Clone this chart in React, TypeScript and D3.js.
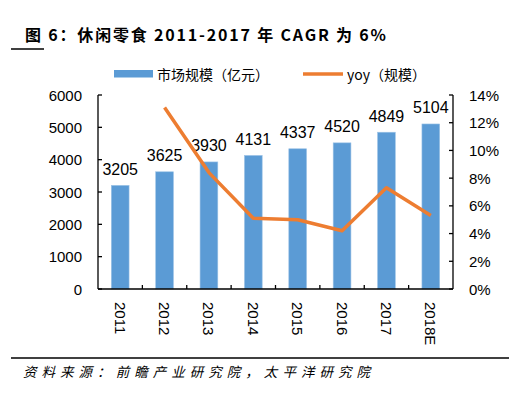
import React from 'react';
import * as d3 from 'd3';

const categories = ['2011', '2012', '2013', '2014', '2015', '2016', '2017', '2018E'];
const marketSize = [3205, 3625, 3930, 4131, 4337, 4520, 4849, 5104];
const yoyValues: (number | null)[] = [null, 13.1, 8.4, 5.1, 5.0, 4.2, 7.3, 5.3];
const leftTicks = [0, 1000, 2000, 3000, 4000, 5000, 6000];
const rightTicks = [0, 2, 4, 6, 8, 10, 12, 14];
const titleText = '图 6：休闲零食 2011-2017 年 CAGR 为 6%';
const sourceText = '资料来源：前瞻产业研究院，太平洋研究院';
const legendBar = '市场规模（亿元）';
const legendLine = 'yoy（规模）';

const NUM_FONT = '"Liberation Sans", Arial, sans-serif';
const CJK_FONT = '"Noto Sans CJK SC", "Liberation Sans", sans-serif';

export default function App() {
  const left = 98, right = 453, top = 95, bottom = 289;
  const x = d3.scaleBand<string>().domain(categories).range([left, right]).padding(0);
  const yL = d3.scaleLinear().domain([0, 6000]).range([bottom, top]);
  const yR = d3.scaleLinear().domain([0, 14]).range([bottom, top]);
  const bw = x.bandwidth() * 0.4;
  const cx = (c: string) => (x(c) as number) + x.bandwidth() / 2;

  const line = d3
    .line<number | null>()
    .defined((d) => d !== null)
    .x((_, i) => cx(categories[i]))
    .y((d) => yR(d as number));

  return (
    <svg width={511} height={398} style={{ position: 'absolute', left: 0, top: 0, background: '#fff' }}>
      {/* title */}
      <text
        x={25}
        y={41}
        fontFamily={CJK_FONT}
        fontWeight="bold"
        fontSize={16}
        textLength={361}
        lengthAdjust="spacing"
        fill="#000"
      >
        {titleText}
      </text>
      <line x1={11} x2={44} y1={49} y2={49} stroke="#000" strokeWidth={1.5} />

      {/* legend */}
      <rect x={114} y={70} width={39} height={7.5} fill="#5B9BD5" />
      <text x={157} y={74} dominantBaseline="central" fontFamily={CJK_FONT} fontSize={14} fill="#000">
        {legendBar}
      </text>
      <line x1={303} x2={343} y1={74} y2={74} stroke="#ED7D31" strokeWidth={3.5} />
      <text x={347} y={74} dominantBaseline="central" fontFamily={CJK_FONT} fontSize={14} fill="#000">
        {legendLine}
      </text>

      {/* bars */}
      {categories.map((c, i) => (
        <rect
          key={c}
          x={cx(c) - bw / 2}
          y={yL(marketSize[i])}
          width={bw}
          height={bottom - yL(marketSize[i])}
          fill="#5B9BD5"
          stroke="#9DC3E6"
          strokeWidth={0.6}
        />
      ))}
      {categories.map((c, i) => (
        <text
          key={'l' + c}
          x={cx(c)}
          y={yL(marketSize[i]) - 16}
          textAnchor="middle"
          dominantBaseline="central"
          fontFamily={NUM_FONT}
          fontSize={16}
          fill="#000"
        >
          {marketSize[i]}
        </text>
      ))}

      {/* yoy line */}
      <path d={line(yoyValues) || ''} fill="none" stroke="#ED7D31" strokeWidth={3.5} strokeLinejoin="round" />

      {/* axes */}
      <line x1={left} x2={left} y1={top} y2={bottom} stroke="#000" strokeWidth={1.3} />
      <line x1={right} x2={right} y1={top} y2={bottom} stroke="#000" strokeWidth={1.3} />
      <line x1={left} x2={right} y1={bottom} y2={bottom} stroke="#000" strokeWidth={1.3} />
      {leftTicks.map((t) => (
        <g key={'lt' + t}>
          <line x1={left} x2={left + 4} y1={yL(t)} y2={yL(t)} stroke="#000" strokeWidth={1.3} />
          <text x={82} y={yL(t)} textAnchor="end" dominantBaseline="central" fontFamily={NUM_FONT} fontSize={15} fill="#000">
            {t}
          </text>
        </g>
      ))}
      {rightTicks.map((t) => (
        <g key={'rt' + t}>
          <line x1={right - 4} x2={right} y1={yR(t)} y2={yR(t)} stroke="#000" strokeWidth={1.3} />
          <text x={469} y={yR(t)} textAnchor="start" dominantBaseline="central" fontFamily={NUM_FONT} fontSize={15} fill="#000">
            {t + '%'}
          </text>
        </g>
      ))}
      {categories.map((c, i) => (
        <g key={'xt' + c}>
          {i > 0 && (
            <line x1={x(c) as number} x2={x(c) as number} y1={bottom} y2={bottom - 4} stroke="#000" strokeWidth={1.3} />
          )}
          <text
            transform={`translate(${cx(c)},302) rotate(90)`}
            textAnchor="start"
            dominantBaseline="central"
            fontFamily={NUM_FONT}
            fontSize={15}
            fill="#000"
          >
            {c}
          </text>
        </g>
      ))}

      {/* footer */}
      <line x1={11} x2={509} y1={358} y2={358} stroke="#000" strokeWidth={1.5} />
      <text
        x={23}
        y={377}
        fontFamily={CJK_FONT}
        fontStyle="italic"
        fontSize={13.5}
        textLength={347}
        lengthAdjust="spacing"
        fill="#000"
      >
        {sourceText}
      </text>
    </svg>
  );
}
